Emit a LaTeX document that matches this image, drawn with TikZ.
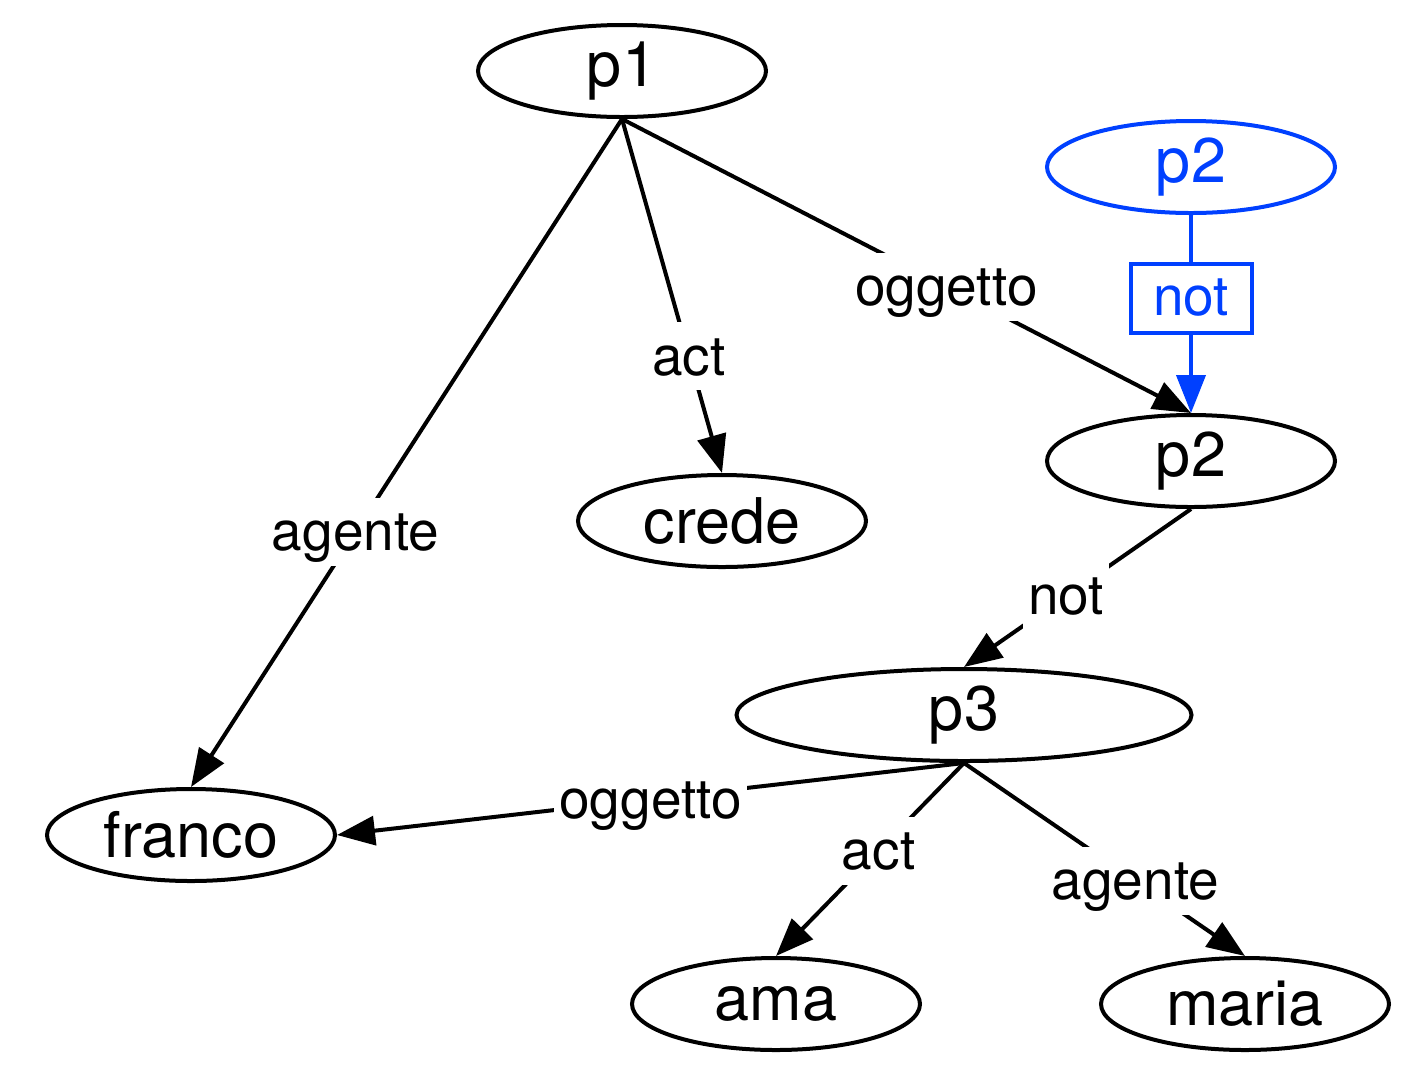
\documentclass[tikz,border=0pt]{standalone}
\usepackage{fontspec}
\setmainfont{TeX Gyre Heros}
\usetikzlibrary{arrows.meta,shapes.geometric}
\definecolor{gvblue}{RGB}{0,64,255}
\begin{document}
\begin{tikzpicture}[x=0.5pt,y=-0.5pt,
  nd/.style={ellipse, draw, line width=2pt, inner sep=0pt, minimum width=144pt, minimum height=46pt, font=\fontsize{31.5}{36}\selectfont},
  lbl/.style={fill=white, inner sep=2.5pt, font=\fontsize{27.5}{32}\selectfont, text height=24pt, text depth=5pt},
  edge/.style={line width=2pt, -{Triangle[length=19pt,width=14.5pt]}},
  plain/.style={line width=2pt},
]
\useasboundingbox (0,0) rectangle (1414,1078);
\node[nd] (p1) at (622,71) {p1};
\node[nd, draw=gvblue, text=gvblue] (p2b) at (1191,167) {p2};
\node[draw=gvblue, text=gvblue, line width=2pt, minimum width=60.5pt, minimum height=34.5pt, inner sep=0pt, font=\fontsize{27.5}{32}\selectfont] (notb) at (1191,298) {not};
\node[nd] (p2) at (1191,461) {p2};
\node[nd] (crede) at (722,521) {crede};
\node[nd, minimum width=227.5pt] (p3) at (964,715) {p3};
\node[nd] (franco) at (191,835) {franco};
\node[nd] (ama) at (776,1004) {ama};
\node[nd] (maria) at (1245,1004) {maria};

\draw[edge] (p1.south) -- node[lbl, pos=0.618] {agente} (franco.north);
\draw[edge] (p1.south) -- node[lbl, pos=0.67] {act} (crede.north);
\draw[edge] (p1.south) -- node[lbl, pos=0.57] {oggetto} (p2.north);
\draw[plain, gvblue] (p2b.south) -- (notb.north);
\draw[edge, gvblue] (notb.south) -- (p2.north);
\draw[edge] (p2.south) -- node[lbl, pos=0.55] {not} (p3.north);
\draw[edge] (p3.south) -- node[lbl, pos=0.5] {oggetto} (franco.east);
\draw[edge] (p3.south) -- node[lbl, pos=0.454] {act} (ama.north);
\draw[edge] (p3.south) -- node[lbl, pos=0.61] {agente} (maria.north);
\end{tikzpicture}
\end{document}
